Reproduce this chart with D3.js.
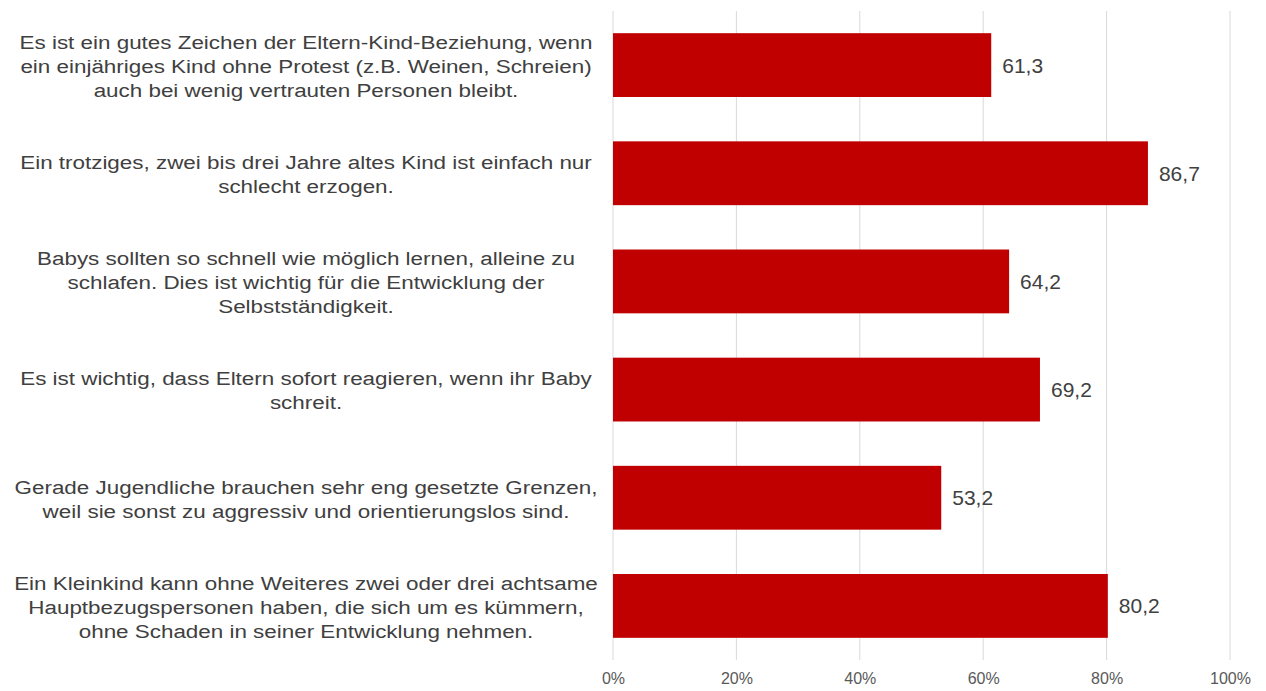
<!DOCTYPE html>
<html><head><meta charset="utf-8">
<script src="https://cdn.jsdelivr.net/npm/d3@7"></script>
<style>
body{margin:0;background:#fff;}
svg{display:block;font-family:"Liberation Sans",Arial,sans-serif;}
</style></head>
<body><svg id="c" width="1266" height="691"></svg>
<script>
const categories = [
  ["Es ist ein gutes Zeichen der Eltern-Kind-Beziehung, wenn", "ein einjähriges Kind ohne Protest (z.B. Weinen, Schreien)", "auch bei wenig vertrauten Personen bleibt."],
  ["Ein trotziges, zwei bis drei Jahre altes Kind ist einfach nur", "schlecht erzogen."],
  ["Babys sollten so schnell wie möglich lernen, alleine zu", "schlafen. Dies ist wichtig für die Entwicklung der", "Selbstständigkeit."],
  ["Es ist wichtig, dass Eltern sofort reagieren, wenn ihr Baby", "schreit."],
  ["Gerade Jugendliche brauchen sehr eng gesetzte Grenzen,", "weil sie sonst zu aggressiv und orientierungslos sind."],
  ["Ein Kleinkind kann ohne Weiteres zwei oder drei achtsame", "Hauptbezugspersonen haben, die sich um es kümmern,", "ohne Schaden in seiner Entwicklung nehmen."]
];
const values = [61.3, 86.7, 64.2, 69.2, 53.2, 80.2];
const tickValues = [0, 20, 40, 60, 80, 100];

const svg = d3.select("#c");
const x = d3.scaleLinear().domain([0, 100]).range([613, 1230]);
const y = d3.scaleBand().domain(d3.range(categories.length)).range([11, 660]).paddingInner(0.41).paddingOuter(0.205);

// gridlines
svg.append("g").selectAll("line").data(tickValues).join("line")
  .attr("x1", d => x(d)).attr("x2", d => x(d))
  .attr("y1", 11).attr("y2", 660)
  .attr("stroke", "#d9d9d9").attr("stroke-width", 1);

// x axis labels
const ax = svg.append("g").attr("transform", "translate(0,660)")
  .call(d3.axisBottom(x).tickValues(tickValues).tickFormat(d => d + "%").tickSize(0).tickPadding(13));
ax.select(".domain").remove();
ax.selectAll("text").attr("font-size", 16).attr("fill", "#595959").attr("font-family", "Liberation Sans, Arial, sans-serif");

// bars
svg.append("g").selectAll("rect").data(values).join("rect")
  .attr("x", x(0)).attr("y", (d, i) => y(i))
  .attr("width", d => x(d) - x(0)).attr("height", y.bandwidth())
  .attr("fill", "#c00000");

// value labels
svg.append("g").selectAll("text").data(values).join("text")
  .attr("x", d => x(d) + 11).attr("y", (d, i) => y(i) + y.bandwidth() / 2)
  .attr("dominant-baseline", "central")
  .attr("font-size", 21).attr("fill", "#404040")
  .text(d => d3.format(".1f")(d).replace(".", ","));

// category labels
const lg = svg.append("g");
categories.forEach((lines, i) => {
  const cy = y(i) + y.bandwidth() / 2 + 1;
  const t = lg.append("text").attr("text-anchor", "middle").attr("font-size", 19).attr("fill", "#404040")
    .attr("transform", "translate(306,0) scale(1.18,1)");
  lines.forEach((ln, j) => {
    t.append("tspan").attr("x", 0).attr("y", cy + (j - (lines.length - 1) / 2) * 24)
      .attr("dominant-baseline", "central").text(ln);
  });
});
</script></body></html>
